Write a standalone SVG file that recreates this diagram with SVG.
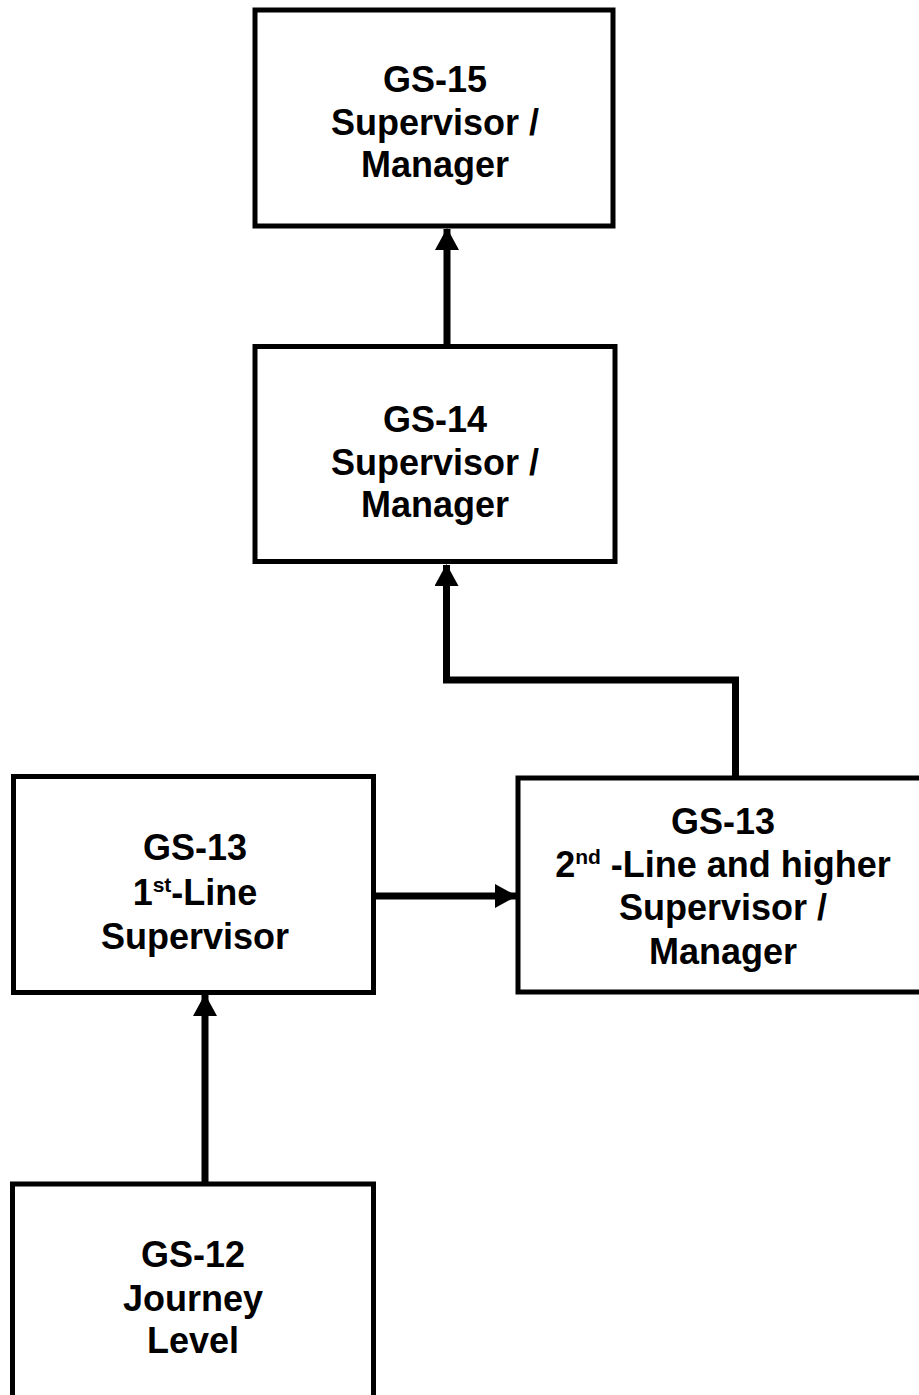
<svg xmlns="http://www.w3.org/2000/svg" width="919" height="1395" viewBox="0 0 919 1395">
<style>
.box{fill:#fff;stroke:#000;stroke-width:5}
.t{font-family:"Liberation Sans",Arial,sans-serif;font-weight:bold;font-size:36px;fill:#000;text-anchor:middle}
.sup{font-size:21px}
.c{fill:none;stroke:#000;stroke-width:7}
</style>
<defs>
<marker id="ah" markerUnits="userSpaceOnUse" markerWidth="24" markerHeight="24" viewBox="0 0 22 24" refX="21" refY="12" orient="auto">
<polygon points="0,0 22,12 0,24" fill="#000"/>
</marker>
</defs>
<rect width="919" height="1395" fill="#fff"/>
<g id="connectors">
<line class="c" x1="447" y1="346" x2="447" y2="229" marker-end="url(#ah)"/>
<polyline class="c" points="735.5,778 735.5,680 446.5,680 446.5,565" marker-end="url(#ah)"/>
<line class="c" x1="376" y1="896" x2="516" y2="896" marker-end="url(#ah)"/>
<line class="c" x1="205" y1="1184" x2="205" y2="995" marker-end="url(#ah)"/>
</g>
<g id="gs15">
<rect class="box" x="255" y="10" width="358" height="216"/>
<text class="t" x="435" y="92">GS-15</text>
<text class="t" x="435" y="135">Supervisor /</text>
<text class="t" x="435" y="177">Manager</text>
</g>
<g id="gs14">
<rect class="box" x="255" y="346.5" width="360" height="215"/>
<text class="t" x="435" y="432">GS-14</text>
<text class="t" x="435" y="475">Supervisor /</text>
<text class="t" x="435" y="517">Manager</text>
</g>
<g id="gs13-first">
<rect class="box" x="13.5" y="776.5" width="360" height="216"/>
<text class="t" x="195" y="860">GS-13</text>
<text class="t" x="195" y="905">1<tspan class="sup" dy="-13">st</tspan><tspan dy="13">-Line</tspan></text>
<text class="t" x="195" y="949">Supervisor</text>
</g>
<g id="gs13-second">
<rect class="box" x="518" y="778" width="412" height="214"/>
<text class="t" x="723" y="834">GS-13</text>
<text class="t" x="723" y="877">2<tspan class="sup" dy="-13">nd</tspan><tspan dy="13"> -Line and higher</tspan></text>
<text class="t" x="723" y="920">Supervisor /</text>
<text class="t" x="723" y="964">Manager</text>
</g>
<g id="gs12">
<rect class="box" x="12.5" y="1184" width="361" height="240"/>
<text class="t" x="193" y="1267">GS-12</text>
<text class="t" x="193" y="1311">Journey</text>
<text class="t" x="193" y="1353">Level</text>
</g>
</svg>
